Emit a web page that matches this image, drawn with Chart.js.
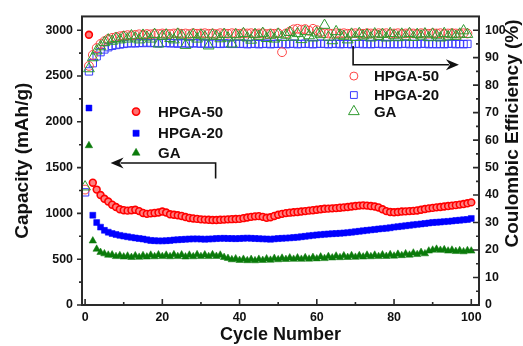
<!DOCTYPE html>
<html><head><meta charset="utf-8">
<script src="https://cdn.jsdelivr.net/npm/chart.js@4/dist/chart.umd.min.js"></script>
<style>html,body{margin:0;padding:0;background:#fff}#wrap{width:523px;height:346px;position:relative}</style>
</head><body><div id="wrap"><canvas id="c" width="523" height="346"></canvas></div>
<script>
// ---- data ----
const seriesNames = ['HPGA-50', 'HPGA-20', 'GA'];
const capCycles = Array.from({length: 100}, (_, i) => i + 1);
const ceCycles = Array.from({length: 100}, (_, i) => i);

const capHPGA50 = [2950,1335,1260,1200,1160,1130,1095,1070,1045,1035,
  1030,1035,1040,1025,1005,995,1000,1005,1010,1020,
  1010,990,985,980,972,960,950,945,940,935,
  932,930,928,928,930,932,935,937,938,940,
  948,955,962,968,970,962,952,958,972,985,
  995,1003,1008,1012,1016,1020,1025,1030,1035,1040,
  1045,1050,1052,1055,1058,1062,1066,1070,1075,1080,
  1085,1088,1085,1080,1075,1065,1045,1025,1015,1012,
  1015,1020,1022,1025,1028,1032,1040,1048,1055,1060,
  1066,1070,1075,1080,1085,1090,1096,1102,1110,1120];
const capHPGA20 = [2150,980,900,850,815,795,780,770,760,752,
  745,738,732,726,720,712,705,702,700,700,
  702,705,710,712,715,718,720,722,722,720,
  718,720,722,725,727,728,726,725,724,726,
  728,730,728,726,724,722,720,718,722,725,
  728,730,733,736,740,745,750,755,760,765,
  768,772,775,778,780,783,786,790,795,800,
  805,810,815,820,825,830,834,838,843,850,
  855,860,865,870,875,880,885,890,895,900,
  903,906,910,913,917,922,926,930,933,945];
const capGA = [1740,700,610,575,560,545,548,530,540,525,
  535,520,538,522,540,525,545,528,548,530,
  545,528,550,530,548,525,545,528,550,530,
  548,530,550,532,545,520,510,495,505,488,
  500,485,498,484,500,488,505,490,510,495,
  512,498,515,500,515,500,518,502,520,505,
  525,508,530,515,535,518,538,520,540,522,
  540,525,545,528,545,530,548,532,550,535,
  555,540,560,545,568,552,575,560,590,600,
  610,598,605,590,600,585,595,582,595,590];

const ceHPGA50 = [42,87,91,93.5,95,96,96.8,97.2,97.5,97.8,
  98,98.2,98.1,98.3,98.5,98.4,98.6,98.5,98.7,98.6,
  98.8,98.7,98.6,98.8,98.9,98.7,98.8,98.6,98.9,98.7,
  98.8,98.9,98.7,98.8,98.6,98.9,98.8,98.7,98.9,98.8,
  98.7,98.9,98.8,98.9,98.7,98.8,98.9,98.6,98.8,98.7,
  98.9,92,98.8,99.5,100.3,100.5,100.2,100.4,99.8,100.5,
  100,99.2,98.9,98.8,98.7,98.9,98.8,98.9,98.7,98.8,
  98.9,98.8,98.7,98.9,98.8,98.7,98.9,98.8,98.9,98.7,
  98.8,98.9,98.7,98.8,98.9,98.8,98.7,98.9,98.8,98.7,
  98.9,98.8,98.9,98.7,98.8,98.9,98.8,98.7,98.9,98.8];
const ceHPGA20 = [41,85,88,90.5,92,93,93.8,94.3,94.6,94.8,
  95,95.2,95.3,95.2,95.4,95.3,95.5,95.3,95.4,95.2,
  95.3,95.4,95.2,95.3,95.1,95.3,95.2,95.1,95.3,95.2,
  95.1,95.2,95.0,95.2,95.1,95.0,95.2,95.1,95.0,95.1,
  95.0,95.1,94.9,95.0,95.1,94.9,95.0,95.1,94.9,95.0,
  95.1,95.0,94.9,95.0,95.1,94.9,95.0,95.1,95.0,94.9,
  95.0,95.1,95.0,94.9,95.0,95.1,94.9,95.0,95.0,94.9,
  95.0,95.1,94.9,95.0,94.9,95.0,95.1,94.9,95.0,94.9,
  95.0,94.9,95.0,95.1,94.9,95.0,94.9,95.0,95.1,94.9,
  95.0,94.9,95.0,94.9,95.0,95.1,94.9,95.0,94.9,95.0];
const ceGA = [43,86,90,92.5,94,95.5,96.5,96,97,96.5,
  97.5,96.8,98,97.2,96.5,98.2,97.5,96.8,98.5,95,
  97.8,98.3,97,96.5,98.6,98,94.5,97.5,98.4,96.8,
  98.2,97.6,94.3,98.3,97.8,96.9,98.5,97.2,95,98.4,
  97.6,98.8,97.2,96.4,98.5,97.8,98.9,97,98.2,96.8,
  98.6,97.4,98.2,99.2,97.5,98.8,96.6,99.5,98,97.2,
  99,98.4,101.8,97.5,96.2,99.5,98.2,97.8,96.5,98.6,
  97.4,98.8,97.9,98.3,97.2,98.7,97.8,98.5,97.2,98.8,
  98,97.3,98.6,97.6,98.8,97.4,98.5,97.9,98.7,97.3,
  98.6,98,97.2,98.8,97.6,98.4,97.8,98.6,99.8,98.5];

const xTicks = [0, 20, 40, 60, 80, 100];
const yTicks = [0, 500, 1000, 1500, 2000, 2500, 3000];
const y1Ticks = [0, 10, 20, 30, 40, 50, 60, 70, 80, 90, 100];

// ---- styles ----
const FONT = "'Liberation Sans', Arial, sans-serif";
const C = {
  capRed: '#ff0000', capBlue: '#0000ff', capGreen: '#0a7a0a',
  ceRed: '#ff4545', ceBlue: '#3b3bff', ceGreen: '#2f9a2f'
};
const pts = (xs, ys) => xs.map((x, i) => ({x, y: ys[i]}));

const capStyles = [
  {style: 'circle', r: 3.4, bg: '#ff8080', border: C.capRed, bw: 1.6},
  {style: 'rect', r: 4.2, bg: C.capBlue, border: C.capBlue, bw: 0.5},
  {style: 'triangle', r: 4.3, bg: C.capGreen, border: C.capGreen, bw: 0.5}
];
const ceStyles = [
  {style: 'circle', r: 4.4, border: C.ceRed},
  {style: 'rect', r: 5.2, border: C.ceBlue},
  {style: 'triangle', r: 6.2, border: C.ceGreen}
];

const datasets = [
  {label: 'cap-' + seriesNames[0], data: pts(capCycles, capHPGA50), yAxisID: 'y', order: 6},
  {label: 'cap-' + seriesNames[1], data: pts(capCycles, capHPGA20), yAxisID: 'y', order: 5},
  {label: 'cap-' + seriesNames[2], data: pts(capCycles, capGA), yAxisID: 'y', order: 4},
].map((d, i) => Object.assign(d, {
  pointStyle: capStyles[i].style, pointRadius: capStyles[i].r,
  pointBackgroundColor: capStyles[i].bg, pointBorderColor: capStyles[i].border,
  pointBorderWidth: capStyles[i].bw, showLine: false
})).concat([
  {label: 'ce-' + seriesNames[0], data: pts(ceCycles, ceHPGA50), yAxisID: 'y1', order: 2},
  {label: 'ce-' + seriesNames[1], data: pts(ceCycles, ceHPGA20), yAxisID: 'y1', order: 3},
  {label: 'ce-' + seriesNames[2], data: pts(ceCycles, ceGA), yAxisID: 'y1', order: 1},
].map((d, i) => Object.assign(d, {
  pointStyle: ceStyles[i].style, pointRadius: ceStyles[i].r,
  pointBackgroundColor: 'rgba(255,255,255,0)', pointBorderColor: ceStyles[i].border,
  pointBorderWidth: 1, showLine: false
})));

// annotation anchors (data units)
const leftArrow = {xFrom: 33.8, xTo: 6.6, yTop: 1550, yBottom: 1380};
const rightArrow = {xFrom: 69.4, xTo: 96.8, yTop: 94.2, yBottom: 87.4};
const leftLegend = {x: 13.2, textX: 18.9, ys: [2111, 1875, 1660]};
const rightLegend = {x: 69.6, textX: 74.8, ys: [83.3, 76.4, 70.4]};

function marker(ctx, style, x, y, r, fill, stroke, lw) {
  ctx.beginPath();
  if (style === 'circle') ctx.arc(x, y, r, 0, Math.PI * 2);
  else if (style === 'rect') { const s = r * Math.SQRT1_2; ctx.rect(x - s, y - s, 2 * s, 2 * s); }
  else {
    ctx.moveTo(x, y - r);
    ctx.lineTo(x + r * Math.sin(Math.PI * 2 / 3), y - r * Math.cos(Math.PI * 2 / 3));
    ctx.lineTo(x + r * Math.sin(Math.PI * 4 / 3), y - r * Math.cos(Math.PI * 4 / 3));
    ctx.closePath();
  }
  if (fill) { ctx.fillStyle = fill; ctx.fill(); }
  if (stroke) { ctx.strokeStyle = stroke; ctx.lineWidth = lw; ctx.stroke(); }
}

const decor = {
  id: 'decor',
  afterDraw(chart) {
    const {ctx, chartArea: a, scales: {x, y, y1}} = chart;
    ctx.save();
    // frame
    ctx.strokeStyle = '#2a2a2a';
    ctx.lineWidth = 2;
    ctx.strokeRect(a.left, a.top, a.right - a.left, a.bottom - a.top);
    // ticks
    ctx.lineWidth = 1.6;
    ctx.beginPath();
    xTicks.forEach((v, i) => {
      const p = x.getPixelForValue(v);
      ctx.moveTo(p, a.bottom); ctx.lineTo(p, a.bottom - 6);
      if (i < xTicks.length - 1) {
        const m = x.getPixelForValue((v + xTicks[i + 1]) / 2);
        ctx.moveTo(m, a.bottom); ctx.lineTo(m, a.bottom - 3);
      }
    });
    yTicks.forEach((v, i) => {
      const p = y.getPixelForValue(v);
      ctx.moveTo(a.left, p); ctx.lineTo(a.left - 5, p);
      if (i < yTicks.length - 1) {
        const m = y.getPixelForValue((v + yTicks[i + 1]) / 2);
        ctx.moveTo(a.left, m); ctx.lineTo(a.left - 3, m);
      }
    });
    y1Ticks.forEach((v, i) => {
      const p = y1.getPixelForValue(v);
      ctx.moveTo(a.right, p); ctx.lineTo(a.right - 6, p);
      if (i < y1Ticks.length - 1) {
        const m = y1.getPixelForValue((v + y1Ticks[i + 1]) / 2);
        ctx.moveTo(a.right, m); ctx.lineTo(a.right - 3, m);
      }
    });
    ctx.stroke();

    // arrows
    ctx.strokeStyle = '#111';
    ctx.fillStyle = '#111';
    ctx.lineWidth = 1.6;
    let vx = x.getPixelForValue(leftArrow.xFrom);
    let hy = y.getPixelForValue(leftArrow.yTop);
    let vb = y.getPixelForValue(leftArrow.yBottom);
    let tip = x.getPixelForValue(leftArrow.xTo);
    ctx.beginPath();
    ctx.moveTo(vx, vb); ctx.lineTo(vx, hy); ctx.lineTo(tip + 10, hy);
    ctx.stroke();
    ctx.beginPath();
    ctx.moveTo(tip, hy); ctx.lineTo(tip + 13, hy - 5.5); ctx.lineTo(tip + 9, hy); ctx.lineTo(tip + 13, hy + 5.5);
    ctx.closePath(); ctx.fill();
    vx = x.getPixelForValue(rightArrow.xFrom);
    const vt = y1.getPixelForValue(rightArrow.yTop);
    hy = y1.getPixelForValue(rightArrow.yBottom);
    tip = x.getPixelForValue(rightArrow.xTo);
    ctx.beginPath();
    ctx.moveTo(vx, vt); ctx.lineTo(vx, hy); ctx.lineTo(tip - 10, hy);
    ctx.stroke();
    ctx.beginPath();
    ctx.moveTo(tip, hy); ctx.lineTo(tip - 13, hy - 5.5); ctx.lineTo(tip - 9, hy); ctx.lineTo(tip - 13, hy + 5.5);
    ctx.closePath(); ctx.fill();

    // legends
    ctx.font = 'bold 15px ' + FONT;
    ctx.textBaseline = 'middle';
    ctx.textAlign = 'left';
    const lcol = [C.capRed, C.capBlue, C.capGreen];
    const lsty = ['circle', 'rect', 'triangle'];
    const lr = [3.6, 4.4, 4.6];
    leftLegend.ys.forEach((v, i) => {
      const px = x.getPixelForValue(leftLegend.x), py = y.getPixelForValue(v);
      marker(ctx, lsty[i], px, py, lr[i], i === 0 ? '#ff7070' : lcol[i], lcol[i], i === 0 ? 1.6 : 0.5);
      ctx.fillStyle = '#111';
      ctx.fillText(seriesNames[i], x.getPixelForValue(leftLegend.textX), py + 1);
    });
    const rcol = [C.ceRed, C.ceBlue, C.ceGreen];
    const rr = [4.0, 4.8, 6.2];
    rightLegend.ys.forEach((v, i) => {
      const px = x.getPixelForValue(rightLegend.x), py = y1.getPixelForValue(v);
      marker(ctx, lsty[i], px, py, rr[i], null, rcol[i], 1);
      ctx.fillStyle = '#111';
      ctx.fillText(seriesNames[i], x.getPixelForValue(rightLegend.textX), py + 1);
    });

    // right axis title
    ctx.save();
    ctx.translate(chart.width - 10, a.top + 117);
    ctx.rotate(-Math.PI / 2);
    ctx.font = 'bold 19px ' + FONT;
    ctx.textAlign = 'center';
    ctx.textBaseline = 'middle';
    ctx.fillStyle = '#111';
    ctx.fillText('Coulombic Efficiency (%)', 0, 0);
    ctx.restore();

    ctx.restore();
  }
};

const tickFont = {family: FONT, size: 12.4, weight: 'bold'};
const plain = v => String(v);
new Chart(document.getElementById('c'), {
  type: 'scatter',
  data: {datasets},
  plugins: [decor],
  options: {
    responsive: false,
    animation: false,
    devicePixelRatio: 1,
    layout: {padding: {top: 10, left: 0, right: 0, bottom: 0}},
    plugins: {legend: {display: false}, tooltip: {enabled: false}},
    scales: {
      x: {
        type: 'linear', position: 'bottom', min: -0.8, max: 102,
        afterBuildTicks: s => { s.ticks = xTicks.map(v => ({value: v})); },
        afterFit: s => { s.height = 41; },
        grid: {display: false, drawTicks: false}, border: {display: false},
        ticks: {font: tickFont, color: '#111', padding: 5, maxRotation: 0, autoSkip: false, callback: plain},
        title: {display: true, text: 'Cycle Number', color: '#111',
          font: {family: FONT, size: 18, weight: 'bold', lineHeight: 1}, padding: {top: 0, bottom: 2}}
      },
      y: {
        type: 'linear', position: 'left', min: 0, max: 3150,
        afterBuildTicks: s => { s.ticks = yTicks.map(v => ({value: v})); },
        afterFit: s => { s.width = 82; },
        grid: {display: false, drawTicks: false}, border: {display: false},
        ticks: {font: tickFont, color: '#111', padding: 9, autoSkip: false, callback: plain},
        title: {display: true, text: 'Capacity (mAh/g)', color: '#111',
          font: {family: FONT, size: 19, weight: 'bold', lineHeight: 1}, padding: {top: 13, bottom: 0}}
      },
      y1: {
        type: 'linear', position: 'right', min: 0, max: 105,
        afterBuildTicks: s => { s.ticks = y1Ticks.map(v => ({value: v})); },
        afterFit: s => { s.width = 44; },
        grid: {display: false, drawTicks: false}, border: {display: false},
        ticks: {font: tickFont, color: '#111', padding: 6, autoSkip: false, callback: plain},
        title: {display: false}
      }
    }
  }
});
</script></body></html>
